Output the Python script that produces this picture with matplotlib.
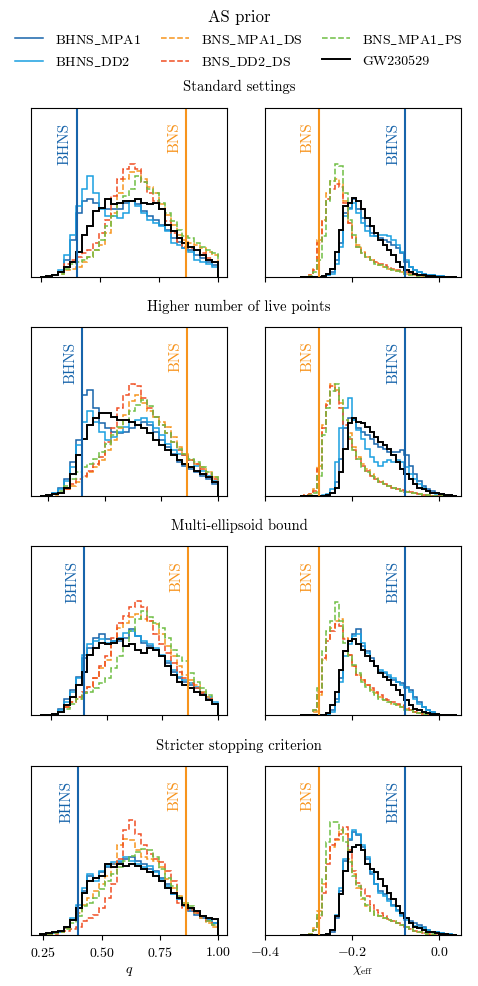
import numpy as np
import matplotlib
matplotlib.use("Agg")
import matplotlib.pyplot as plt

plt.rcParams['font.family'] = ['cmr10', 'DejaVu Serif']
plt.rcParams['mathtext.fontset'] = 'cm'
plt.rcParams['axes.formatter.use_mathtext'] = True
plt.rcParams['font.size'] = 10

labels = [r"BHNS$\_$MPA1", r"BHNS$\_$DD2", r"BNS$\_$MPA1$\_$DS", r"BNS$\_$DD2$\_$DS",
          r"BNS$\_$MPA1$\_$PS", "GW230529"]
colors = ["#1764ab", "#1a9fe0", "#f7941d", "#f04e23", "#6fbe44", "black"]
styles = ["-", "-", "--", "--", "--", "-"]
row_titles = ["Standard settings", "Higher number of live points",
              "Multi-ellipsoid bound", "Stricter stopping criterion"]

# lower end of the q histograms for each row (upper end is 1)
q_lo = [0.245, 0.215, 0.201, 0.235]
# chi_eff histogram edges
chi_lo, chi_hi = -0.32, 0.04

q_bhns, q_bns = 0.40, 0.863
chi_bhns, chi_bns = -0.078, -0.277

# heights in percent of panel height; order as in labels
q_standard = [
    [0, 0.5, 1, 3, 10, 22, 38, 45, 46, 44, 41, 40, 40, 40, 44, 45, 43, 39, 36, 34, 31, 28, 23, 21, 17, 16, 13, 11, 9, 7],
    [0, 0.5, 1, 4, 13, 25, 42, 52, 60, 50, 40, 36, 36, 35, 38, 45, 42, 38, 34, 32, 30, 27, 20, 19, 17, 15, 10, 9, 8, 6],
    [0, 0.5, 1, 2, 4, 5, 6, 9, 12, 16, 19, 26, 38, 50, 58, 62, 63, 58, 53, 50, 43, 37, 31, 25, 22, 20, 19, 17, 15, 13],
    [0, 0.5, 1, 3, 8, 10, 12, 14, 16, 20, 26, 34, 48, 58, 64, 67, 64, 56, 50, 45, 40, 33, 26, 21, 18, 17, 16, 14, 11, 9],
    [0, 0.5, 1, 2, 5, 8, 9, 10, 12, 16, 22, 30, 36, 44, 48, 52, 60, 56, 52, 50, 44, 38, 33, 28, 24, 23, 20, 18, 16, 14],
    [0, 0.5, 1, 3, 6, 9, 15, 25, 30, 39, 41, 46, 43, 44, 45, 45, 46, 44, 43, 44, 40, 31, 27, 23, 20, 18, 16, 13, 10, 9],
]
q_livepoints = [
    [0, 0.5, 2, 5, 10, 20, 33, 60, 63, 52, 43, 40, 38, 37, 38, 40, 42, 44, 42, 38, 33, 29, 25, 20, 18, 16, 14, 12, 10, 7],
    [0, 0.5, 1.5, 4, 9, 17, 30, 44, 50, 44, 38, 33, 35, 38, 41, 44, 45, 46, 44, 40, 36, 31, 27, 25, 24, 21, 18, 15, 12, 9],
    [0, 0.3, 0.8, 2, 4, 6, 8, 11, 14, 17, 21, 27, 33, 40, 48, 56, 60, 55, 50, 47, 44, 41, 35, 29, 25, 21, 19, 17, 14, 11],
    [0, 0.5, 1, 2, 4, 7, 10, 12, 15, 19, 23, 32, 40, 52, 60, 66, 65, 58, 52, 47, 42, 37, 32, 27, 24, 21, 19, 16, 13, 10],
    [0, 0.3, 1, 3, 6, 10, 14, 17, 19, 22, 26, 31, 36, 41, 45, 50, 54, 57, 53, 47, 42, 37, 32, 28, 25, 22, 20, 17, 14, 11],
    [0, 0.5, 1, 2, 5, 13, 24, 34, 42, 46, 49, 49, 47, 45, 45, 44, 42, 40, 37, 33, 30, 27, 24, 21, 19, 17, 15, 13, 11, 8],
]
q_multi = [
    [0, 0.3, 1, 4, 10, 15, 23, 34, 40, 46, 48, 45, 44, 44, 46, 51, 47, 43, 41, 39, 35, 31, 26, 22, 20, 18, 16, 13, 10, 7],
    [0, 0.3, 1, 3, 8, 14, 22, 36, 42, 44, 45, 43, 44, 46, 49, 50, 47, 44, 42, 40, 36, 32, 27, 23, 21, 19, 17, 14, 11, 8],
    [0.3, 0.5, 1, 2, 5, 8, 10, 13, 17, 22, 28, 33, 43, 52, 55, 58, 60, 57, 56, 54, 48, 41, 35, 29, 24, 21, 18, 14, 11, 7],
    [0, 0.5, 1, 2, 5, 8, 11, 14, 17, 22, 29, 35, 46, 55, 59, 64, 68, 64, 56, 48, 42, 37, 31, 26, 22, 19, 16, 13, 10, 7],
    [0, 0.3, 1, 2, 4, 7, 10, 13, 14, 16, 19, 22, 28, 35, 41, 50, 57, 62, 58, 55, 52, 46, 39, 35, 32, 25, 20, 16, 12, 7],
    [0, 0.3, 0.8, 2, 6, 11, 18, 26, 36, 40, 43, 42, 43, 45, 41, 42, 39, 37, 40, 39, 35, 29, 24, 20, 18, 16, 14, 12, 9, 7],
]
q_stricter = [
    [0.3, 0.6, 1, 2, 4, 9, 16, 26, 35, 34, 37, 40, 42, 43, 45, 46, 44, 42, 39, 38, 34, 30, 24, 21, 18, 14, 12, 10, 9, 7],
    [0.3, 0.6, 1, 2, 5, 10, 18, 28, 36, 32, 38, 41, 43, 44, 46, 44, 42, 40, 41, 37, 33, 29, 24, 21, 17, 15, 13, 11, 9, 7],
    [0.3, 0.6, 1, 2, 4, 9, 13, 18, 22, 26, 30, 35, 42, 53, 57, 56, 50, 46, 45, 44, 40, 33, 28, 23, 19, 16, 13, 10, 7, 4.5],
    [0.2, 0.4, 0.8, 1.5, 2.5, 3.5, 5, 8, 10, 12, 16, 22, 30, 45, 62, 68, 60, 53, 48, 45, 43, 38, 32, 19, 16, 15, 13, 11, 8, 6],
    [0.3, 0.6, 1, 2, 3.5, 7, 11, 17, 19, 22, 27, 32, 36, 40, 44, 47, 49, 51, 50, 46, 39, 34, 29, 23, 19, 17, 14, 11, 8, 6],
    [0.5, 1, 1.5, 2.5, 5, 9, 16, 25, 32, 34, 35, 42, 40, 42, 41, 42, 41, 39, 37, 35, 32, 28, 25, 22, 18, 16, 14, 11, 10, 9.5],
]

chi_standard = [
    [0, 0, 0, 0, 0, 0, 1, 3, 10, 20, 38, 41, 46, 40, 35, 30, 26, 24, 23, 22, 21, 19, 17, 14, 9, 6, 4, 3, 2, 1.5, 1, 0.6, 0.4, 0.2, 0, 0],
    [0, 0, 0, 0, 0, 0, 1, 2, 8, 18, 36, 40, 44, 38, 32, 27, 24, 24, 25, 25, 24, 22, 19, 15, 10, 6, 4, 3, 2, 1.5, 1, 0.6, 0.4, 0.2, 0, 0],
    [0, 0, 1, 5, 22, 34, 50, 57, 58, 55, 45, 32, 24, 19, 15, 12, 10, 9, 7, 6, 5, 4, 3.5, 3, 2, 1.5, 1, 0.8, 0.5, 0.3, 0, 0, 0, 0, 0, 0],
    [0, 0, 1, 4, 20, 33, 46, 52, 55, 53, 44, 32, 23, 18, 14, 12, 10, 9, 8, 7, 6, 5, 4, 3.5, 3, 2, 1.5, 1, 0.6, 0.3, 0, 0, 0, 0, 0, 0],
    [0, 0, 0.5, 3, 10, 24, 45, 57, 67, 66, 50, 34, 25, 18, 14, 12, 10, 8, 7, 6, 5, 4, 3.5, 3, 2, 1.5, 1, 0.8, 0.5, 0.3, 0, 0, 0, 0, 0, 0],
    [0, 0, 0, 0, 0, 0.5, 2, 5, 15, 28, 42, 44, 47, 45, 40, 35, 30, 26, 22, 19, 16, 13, 9, 6, 4, 3, 2, 1.5, 1, 0.8, 0.5, 0.3, 0.2, 0, 0, 0],
]
chi_livepoints = [
    [0, 0, 0, 0, 0, 0, 0.5, 2, 8, 22, 40, 46, 45, 40, 38, 36, 34, 31, 29, 28, 26, 26, 26, 27, 24, 18, 13, 9, 6, 4, 3, 2, 1, 0.5, 0.3, 0],
    [0, 0, 0, 0, 0, 0.3, 1, 4, 20, 40, 52, 58, 45, 39, 34, 28, 23, 20, 18, 20, 21, 20, 21, 20, 17, 13, 10, 7, 5, 3, 2, 1, 0.5, 0.3, 0, 0],
    [0, 0.5, 1, 4, 18, 42, 56, 66, 63, 55, 45, 37, 29, 23, 19, 16, 13, 11, 9, 7, 6, 5, 4, 3, 2.5, 2, 1.5, 1, 0.6, 0.4, 0.2, 0, 0, 0, 0, 0],
    [0, 0.5, 1, 3, 16, 40, 54, 65, 62, 52, 42, 34, 27, 22, 18, 15, 12, 10, 8, 7, 6, 5, 4, 3.5, 3, 2.5, 2, 1, 0.6, 0.3, 0, 0, 0, 0, 0, 0],
    [0, 0, 0.5, 2, 12, 36, 52, 62, 66, 57, 45, 35, 27, 22, 17, 14, 12, 10, 8, 7, 6, 5, 4, 3, 2.5, 2, 1.5, 1, 0.6, 0.3, 0, 0, 0, 0, 0, 0],
    [0, 0, 0, 0, 0, 0, 0.3, 1.5, 5, 14, 28, 43, 46, 44, 43, 41, 38, 35, 32, 30, 28, 24, 20, 16, 13, 10, 7, 5, 4, 3, 2, 1.5, 1, 0.5, 0.3, 0],
]
chi_multi = [
    [0, 0, 0, 0, 0, 0, 0.5, 3, 10, 22, 38, 44, 48, 51, 41, 38, 34, 29, 26, 25, 23, 21, 20, 19, 17, 15, 11, 8, 5, 3, 2, 1, 0.5, 0.3, 0, 0],
    [0, 0, 0, 0, 0, 0, 0.3, 2, 8, 20, 35, 42, 47, 48, 43, 37, 32, 29, 27, 26, 24, 22, 20, 18, 16, 14, 10, 7, 5, 3, 2, 1, 0.5, 0.3, 0, 0],
    [0, 0, 0.5, 2, 12, 33, 45, 52, 56, 57, 46, 36, 29, 24, 21, 18, 15, 13, 11, 9, 8, 7, 6, 5, 4, 3, 2, 1.5, 1, 0.5, 0, 0, 0, 0, 0, 0],
    [0, 0, 0.5, 3, 14, 34, 44, 50, 54, 53, 45, 36, 29, 24, 21, 18, 16, 14, 12, 10, 9, 8, 7, 6, 4.5, 3, 2, 1.5, 1, 0.5, 0, 0, 0, 0, 0, 0],
    [0, 0, 0.5, 3, 16, 38, 50, 56, 67, 56, 43, 35, 30, 25, 20, 17, 14, 12, 10, 9, 8, 7, 6, 5, 3.5, 3, 2, 1.5, 1, 0.5, 0.3, 0, 0, 0, 0, 0],
    [0, 0, 0, 0, 0, 0.3, 1.5, 6, 14, 27, 38, 44, 45, 42, 39, 35, 32, 29, 25, 23, 21, 18, 15, 12, 9, 6, 4, 3, 2, 1.5, 1, 0.6, 0.3, 0, 0, 0],
]
chi_stricter = [
    [0, 0, 0, 0, 0, 0, 0.3, 2, 10, 26, 44, 56, 61, 59, 52, 45, 36, 30, 26, 24, 21, 18, 15, 12, 10, 8, 7, 6, 4.5, 3, 2, 1.5, 1, 0.5, 0.3, 0],
    [0, 0, 0, 0, 0, 0, 0.5, 3, 12, 28, 45, 57, 62, 60, 53, 46, 37, 30, 25, 23, 20, 17, 14, 11, 9, 7, 5.5, 5, 4, 3, 2, 1.5, 1, 0.5, 0.3, 0],
    [0, 0, 0.5, 4, 14, 30, 45, 52, 56, 62, 60, 45, 36, 28, 21, 17, 14, 12, 11, 10, 9, 8, 7, 6, 5, 3.5, 2.5, 1.5, 1, 0.5, 0, 0, 0, 0, 0, 0],
    [0, 0, 0.5, 3, 10, 25, 42, 53, 57, 60, 64, 50, 38, 31, 27, 23, 18, 15, 13, 11, 9.5, 8, 7, 6, 5, 3.5, 2.5, 1.5, 1, 0.5, 0, 0, 0, 0, 0, 0],
    [0, 0, 0.5, 3, 12, 33, 55, 67, 67, 63, 55, 43, 35, 29, 22, 18, 14, 12, 11, 10, 9, 8, 7, 6, 4.5, 3.5, 2.5, 1.5, 1, 0.5, 0.3, 0, 0, 0, 0, 0],
    [0, 0, 0, 0, 0, 0, 0.5, 3, 11, 24, 38, 49, 52, 53, 50, 42, 39, 37, 33, 29, 25, 21, 17, 13, 10, 7, 5, 4, 3, 2, 1.5, 1, 0.5, 0.3, 0, 0],
]

q_rows = [q_standard, q_livepoints, q_multi, q_stricter]
chi_rows = [chi_standard, chi_livepoints, chi_multi, chi_stricter]

fig = plt.figure(figsize=(4.78, 9.87), dpi=100)
bottoms = [0.7183, 0.4965, 0.2741, 0.0517]
title_y = [0.9118, 0.689, 0.467, 0.244]
h = 0.1712
lines = []

for r in range(4):
    axq = fig.add_axes([0.0649, bottoms[r], 0.410, h])
    axc = fig.add_axes([0.5544, bottoms[r], 0.410, h])

    q_edges = np.linspace(q_lo[r], 1.0, len(q_rows[r][0]) + 1)
    c_edges = np.linspace(chi_lo, chi_hi, len(chi_rows[r][0]) + 1)
    for k in range(6):
        lw = 1.4 if k == 5 else 1.1
        st = axq.stairs(q_rows[r][k], q_edges, color=colors[k], ls=styles[k], lw=lw)
        axc.stairs(chi_rows[r][k], c_edges, color=colors[k], ls=styles[k], lw=lw)
        if r == 0:
            lines.append(st)

    pad = 0.05 * (1 - q_lo[r])
    axq.set_xlim(q_lo[r] - pad, 1 + pad)
    axc.set_xlim(-0.4, 0.05)
    for ax in (axq, axc):
        ax.set_ylim(0, 100)
        ax.set_yticks([])
    axq.set_xticks([0.25, 0.5, 0.75, 1.0])
    axc.set_xticks([-0.4, -0.2, 0.0])

    axq.axvline(q_bhns, color=colors[0], lw=1.5)
    axq.axvline(q_bns, color=colors[2], lw=1.5)
    axc.axvline(chi_bhns, color=colors[0], lw=1.5)
    axc.axvline(chi_bns, color=colors[2], lw=1.5)
    axq.text(q_bhns - 0.02, 92, "BHNS", color=colors[0], rotation=90, ha='right', va='top', fontsize=11)
    axq.text(q_bns - 0.02, 92, "BNS", color=colors[2], rotation=90, ha='right', va='top', fontsize=11)
    axc.text(chi_bns - 0.01, 92, "BNS", color=colors[2], rotation=90, ha='right', va='top', fontsize=11)
    axc.text(chi_bhns - 0.01, 92, "BHNS", color=colors[0], rotation=90, ha='right', va='top', fontsize=11)

    if r < 3:
        axq.set_xticklabels([])
        axc.set_xticklabels([])
    else:
        axq.set_xlabel("$q$")
        axc.set_xlabel(r"$\chi_{\rm eff}$")

    fig.text(0.5, title_y[r], row_titles[r], ha='center', va='center', fontsize=10.5)

fig.legend(lines, labels, loc='upper center', bbox_to_anchor=(0.5, 1.0), ncol=3,
           frameon=False, title="AS prior", title_fontsize=12, columnspacing=1.4,
           handletextpad=0.9, borderaxespad=0.3, labelspacing=0.6)

plt.savefig("out.png", dpi=100)
